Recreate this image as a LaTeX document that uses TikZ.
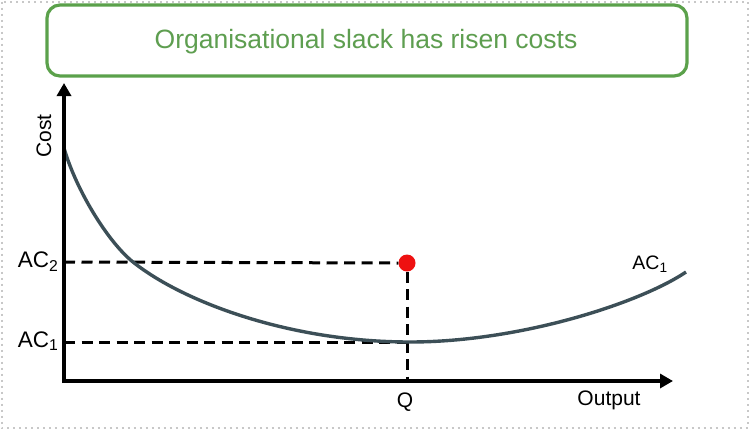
\documentclass[tikz,border=0pt]{standalone}
\usepackage{fontspec}
\setmainfont{Liberation Sans}
\usetikzlibrary{arrows.meta}
\definecolor{titlegreen}{HTML}{5BA14B}
\definecolor{textgreen}{HTML}{5E9E50}
\definecolor{curvecol}{HTML}{3C4F57}
\definecolor{bordergray}{HTML}{C8C8C8}
\definecolor{dotred}{HTML}{EE1111}
\tikzset{
  axis/.style={line width=4.5pt, -{Triangle[length=13pt,width=14pt]}},
  guide/.style={line width=3pt, dash pattern=on 11pt off 6.5pt},
  lbl/.style={inner sep=0pt, font=\fontsize{21}{24}\selectfont},
  titlebox/.style={draw=titlegreen, line width=3.2pt, rounded corners=13pt},
}
\begin{document}
\begin{tikzpicture}[x=1pt,y=-1pt]
\useasboundingbox (0,0) rectangle (749,429);
% outer dotted border
\draw[bordergray, line width=2pt, dash pattern=on 2pt off 4pt] (1.5,1.5) rectangle (747.5,427.5);
% title
\draw[titlebox] (47,5) rectangle (687,76);
\node[inner sep=0pt, text=textgreen, font=\fontsize{26.5}{30}\selectfont] (title) at (366,42) {Organisational slack has risen costs};
% coordinates
\coordinate (ytip) at (64,83);
\coordinate (ybase) at (64,383);
\coordinate (xtip) at (673,381);
\coordinate (xstart) at (62,381);
\coordinate (a2) at (64,262);
\coordinate (a1) at (64,342);
\coordinate (q) at (407,381);
\coordinate (m1) at (407,342);
\coordinate (c0) at (64,148);
\coordinate (c1) at (133,262);
\coordinate (c2) at (410,342);
\coordinate (c3) at (686,272);
\node[circle, fill=dotred, minimum size=17pt, inner sep=0pt] (dot) at (407,263) {};
% guides
\draw[guide] (a2) -- (dot.west);
\draw[guide] (a1) -- (m1);
\draw[guide] (dot.south) -- (q);
% curve
\draw[curvecol, line width=3.4pt]
  (c0) .. controls (76,190) and (108,242) .. (c1)
       .. controls (183,302) and (290,342) .. (c2)
       .. controls (520,342) and (640,303) .. (c3);
% axes
\draw[axis] (ybase) -- (ytip);
\draw[axis] (xstart) -- (xtip);
% labels
\node[lbl, rotate=90, font=\fontsize{21}{24}\selectfont] (cost) at (44,136) {Cost};
\node[lbl, anchor=east, font=\fontsize{22.5}{26}\selectfont] (lac2) at (58.5,262) {AC\textsubscript{2}};
\node[lbl, anchor=east, font=\fontsize{22.5}{26}\selectfont] (lac1) at (58.5,341) {AC\textsubscript{1}};
\node[lbl] (lq) at (405,402) {Q};
\node[lbl] (lout) at (609,400) {Output};
\node[lbl, font=\fontsize{19.5}{22}\selectfont] (lcurve) at (650,264) {AC\textsubscript{1}};
\end{tikzpicture}
\end{document}
